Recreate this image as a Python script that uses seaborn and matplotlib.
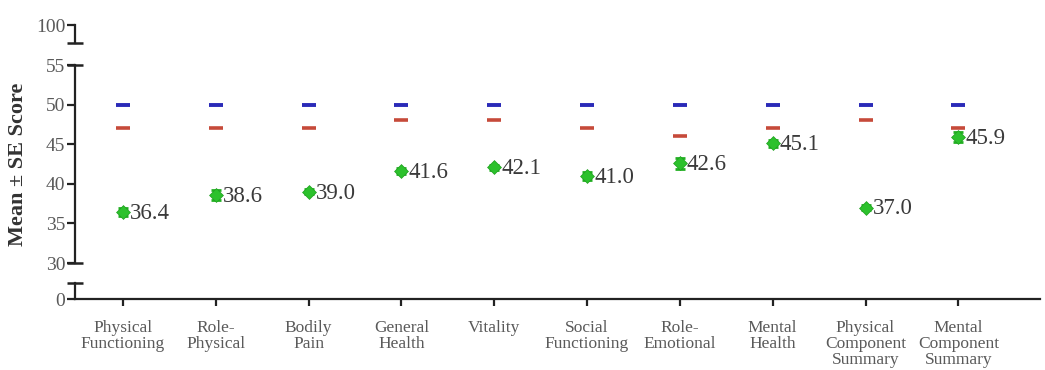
import numpy as np
import pandas as pd
import matplotlib
matplotlib.use("Agg")
import matplotlib.pyplot as plt
import seaborn as sns

categories = ["Physical\nFunctioning", "Role-\nPhysical", "Bodily\nPain", "General\nHealth",
              "Vitality", "Social\nFunctioning", "Role-\nEmotional", "Mental\nHealth",
              "Physical\nComponent\nSummary", "Mental\nComponent\nSummary"]
mean_scores = [36.4, 38.6, 39.0, 41.6, 42.1, 41.0, 42.6, 45.1, 37.0, 45.9]
se_scores = [0.5, 0.6, 0.3, 0.4, 0.3, 0.5, 0.7, 0.4, 0.3, 0.6]
norm_blue = [50, 50, 50, 50, 50, 50, 50, 50, 50, 50]
norm_red = [47, 47, 47, 48, 48, 47, 46, 47, 48, 47]
main_ticks = [30, 35, 40, 45, 50, 55]

sns.set_theme(style="white")
plt.rcParams['font.family'] = ['Liberation Serif', 'DejaVu Serif']

W, H = 1045, 370
fig = plt.figure(figsize=(W / 100, H / 100), dpi=100)

x_pos = np.arange(len(categories))
df = pd.DataFrame({"x": x_pos, "mean": mean_scores, "se": se_scores,
                   "blue": norm_blue, "red": norm_red})

left = 75 / W
width = 965 / W
ax_top = fig.add_axes([left, (H - 43) / H, width, 18 / H])
ax_main = fig.add_axes([left, (H - 263) / H, width, 198 / H])
ax_bot = fig.add_axes([left, (H - 299) / H, width, 16 / H])

xlim = (-0.517, 9.88)
spine_lw = 1.6
tick_col = "#5a5a5a"

for ax in (ax_top, ax_main, ax_bot):
    ax.set_xlim(*xlim)
    ax.set_facecolor("none")
    for s in ("top", "right"):
        ax.spines[s].set_visible(False)
    ax.spines["left"].set_linewidth(spine_lw)
    ax.spines["left"].set_color("#222222")
    ax.spines["bottom"].set_linewidth(spine_lw)
    ax.spines["bottom"].set_color("#222222")
    ax.tick_params(axis="y", direction="out", length=6, width=spine_lw, color="#222222",
                   labelsize=14, labelcolor=tick_col, pad=1, left=True)
    ax.grid(False)

# main panel
ax_main.set_ylim(30, 55)
ax_main.set_yticks(main_ticks)
ax_main.spines["bottom"].set_visible(False)
ax_main.set_xticks([])

ax_main.errorbar(df["x"], df["mean"], yerr=df["se"], fmt="none", ecolor="#22b022",
                 elinewidth=2, capsize=3.5, capthick=2, zorder=3)
sns.scatterplot(data=df, x="x", y="mean", ax=ax_main, marker="D", s=50,
                color="#2cc12c", edgecolor="#1fa01f", linewidth=0.5, zorder=4, legend=False)
sns.scatterplot(data=df, x="x", y="blue", ax=ax_main, marker="_", s=100,
                color="#2a2ab8", linewidth=2.8, zorder=2, legend=False)
sns.scatterplot(data=df, x="x", y="red", ax=ax_main, marker="_", s=100,
                color="#c64a3a", linewidth=2.6, zorder=2, legend=False)
ax_main.set_xlabel("")
ax_main.set_ylabel("")
for xi, m in zip(x_pos, mean_scores):
    ax_main.annotate(f"{m:.1f}", (xi, m), xytext=(5, -1), textcoords="offset points",
                     va="center", ha="left", fontsize=16.5, color="#3a3a3a")
ax_main.set_xlim(*xlim)

# top panel
ax_top.set_ylim(98, 100)
ax_top.set_yticks([100])
ax_top.spines["bottom"].set_visible(False)
ax_top.set_xticks([])

# bottom panel
ax_bot.set_ylim(0, 2)
ax_bot.set_yticks([0])
ax_bot.set_xticks(x_pos)
ax_bot.set_xticklabels(categories, fontsize=12.5, color=tick_col, linespacing=1.0)
ax_bot.tick_params(axis="x", direction="out", length=5, width=spine_lw, color="#222222",
                   bottom=True, pad=10)

# break bars
bw = 8 / 965
for ax, yy in ((ax_top, 0), (ax_main, 1), (ax_main, 0), (ax_bot, 1)):
    ax.plot([-bw, bw], [yy, yy], transform=ax.transAxes, color="#222222",
            lw=spine_lw + 0.2, clip_on=False, solid_capstyle="butt")

fig.text(18 / W, (H - 164) / H, "Mean \u00b1 SE Score", rotation=90, ha="center",
         va="center", fontsize=16, fontweight="bold", color="#333333")

fig.savefig("out.png", dpi=100, facecolor="white")
